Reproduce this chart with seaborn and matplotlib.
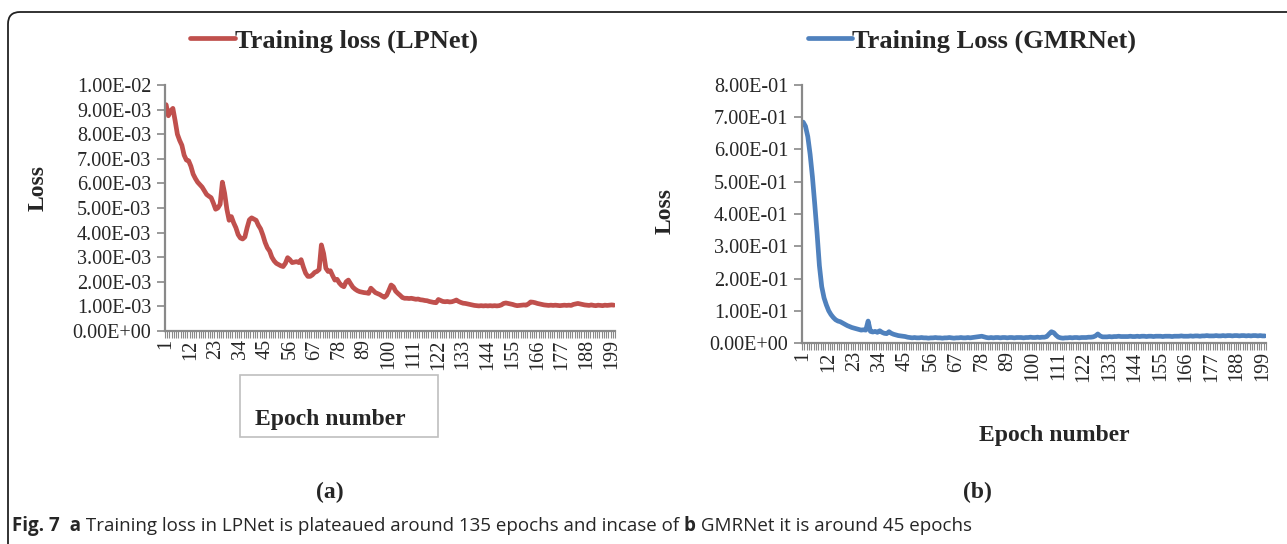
import numpy as np
import pandas as pd
import matplotlib
matplotlib.use("Agg")
import matplotlib.pyplot as plt
from matplotlib.patches import FancyBboxPatch, Rectangle
from matplotlib.ticker import FixedLocator, FuncFormatter
import seaborn as sns

# ---------------- data ----------------
epochs = list(range(1, 201))

# LPNet training loss (units of 1e-3)
lpnet_loss_e3 = [
    9.20, 8.75, 8.95, 9.05, 8.55, 8.00, 7.75, 7.55, 7.15, 6.95,
    6.92, 6.70, 6.38, 6.20, 6.05, 5.95, 5.85, 5.70, 5.55, 5.48,
    5.42, 5.20, 4.95, 5.00, 5.15, 6.05, 5.60, 4.95, 4.50, 4.65,
    4.40, 4.20, 3.92, 3.78, 3.74, 3.82, 4.20, 4.52, 4.60, 4.55,
    4.50, 4.30, 4.15, 3.90, 3.60, 3.38, 3.25, 3.00, 2.85, 2.75,
    2.70, 2.65, 2.62, 2.75, 2.98, 2.90, 2.78, 2.80, 2.82, 2.78,
    2.90, 2.60, 2.35, 2.22, 2.22, 2.28, 2.38, 2.42, 2.50, 3.50,
    3.15, 2.55, 2.42, 2.45, 2.25, 2.07, 2.10, 1.95, 1.85, 1.80,
    2.00, 2.07, 1.92, 1.78, 1.70, 1.64, 1.60, 1.58, 1.56, 1.55,
    1.53, 1.74, 1.65, 1.56, 1.52, 1.48, 1.42, 1.37, 1.45, 1.65,
    1.87, 1.80, 1.62, 1.53, 1.45, 1.36, 1.33, 1.33, 1.32, 1.33,
    1.31, 1.29, 1.30, 1.27, 1.26, 1.24, 1.23, 1.20, 1.18, 1.16,
    1.15, 1.28, 1.24, 1.20, 1.19, 1.20, 1.18, 1.19, 1.22, 1.26,
    1.20, 1.16, 1.13, 1.12, 1.10, 1.08, 1.06, 1.04, 1.03, 1.02,
    1.03, 1.02, 1.03, 1.02, 1.03, 1.02, 1.03, 1.02, 1.03, 1.06,
    1.12, 1.14, 1.12, 1.10, 1.08, 1.05, 1.03, 1.04, 1.05, 1.06,
    1.05, 1.10, 1.18, 1.17, 1.15, 1.12, 1.10, 1.08, 1.06, 1.05,
    1.04, 1.05, 1.04, 1.05, 1.04, 1.03, 1.04, 1.05, 1.04, 1.05,
    1.04, 1.08, 1.10, 1.12, 1.10, 1.08, 1.06, 1.05, 1.04, 1.06,
    1.04, 1.03, 1.05, 1.04, 1.03, 1.05, 1.04, 1.05, 1.06, 1.05,
]

# GMRNet training loss
gmrnet_loss = [
    0.685, 0.672, 0.640, 0.585, 0.515, 0.430, 0.340, 0.240, 0.175, 0.140,
    0.118, 0.100, 0.088, 0.079, 0.072, 0.068, 0.066, 0.062, 0.058, 0.054,
    0.051, 0.048, 0.046, 0.044, 0.042, 0.040, 0.041, 0.040, 0.068, 0.036,
    0.034, 0.036, 0.033, 0.038, 0.033, 0.030, 0.029, 0.035, 0.030, 0.027,
    0.025, 0.023, 0.022, 0.021, 0.020, 0.018, 0.017, 0.016, 0.017, 0.016,
    0.016, 0.017, 0.016, 0.016, 0.015, 0.016, 0.016, 0.017, 0.016, 0.016,
    0.015, 0.016, 0.016, 0.017, 0.016, 0.015, 0.016, 0.016, 0.017, 0.016,
    0.016, 0.017, 0.016, 0.017, 0.018, 0.019, 0.020, 0.021, 0.019, 0.017,
    0.016, 0.017, 0.016, 0.017, 0.017, 0.016, 0.017, 0.017, 0.016, 0.017,
    0.017, 0.016, 0.017, 0.017, 0.017, 0.016, 0.017, 0.017, 0.018, 0.017,
    0.017, 0.018, 0.017, 0.018, 0.018, 0.020, 0.028, 0.035, 0.032, 0.024,
    0.018, 0.016, 0.015, 0.016, 0.016, 0.017, 0.016, 0.017, 0.017, 0.016,
    0.017, 0.017, 0.017, 0.018, 0.018, 0.019, 0.022, 0.028, 0.022, 0.019,
    0.019, 0.019, 0.020, 0.019, 0.020, 0.020, 0.021, 0.020, 0.020, 0.020,
    0.020, 0.021, 0.020, 0.020, 0.021, 0.020, 0.021, 0.021, 0.020, 0.021,
    0.021, 0.020, 0.021, 0.021, 0.021, 0.020, 0.021, 0.021, 0.021, 0.020,
    0.021, 0.021, 0.021, 0.022, 0.021, 0.021, 0.021, 0.022, 0.021, 0.022,
    0.022, 0.021, 0.022, 0.022, 0.023, 0.022, 0.022, 0.022, 0.023, 0.022,
    0.022, 0.023, 0.022, 0.023, 0.023, 0.022, 0.023, 0.023, 0.022, 0.023,
    0.023, 0.022, 0.023, 0.022, 0.023, 0.023, 0.022, 0.023, 0.022, 0.022,
]

xtick_labels = [str(v) for v in range(1, 200, 11)]
lp_yticks = [i * 1e-3 for i in range(11)]
gmr_yticks = [i * 0.1 for i in range(9)]

legend_a = "Training loss (LPNet)"
legend_b = "Training Loss (GMRNet)"
xlabel = "Epoch number"
ylabel = "Loss"
caption_parts = [("Fig. 7", "bold"), ("  a", "bold"),
                 (" Training loss in LPNet is plateaued around 135 epochs and incase of ", "normal"),
                 ("b", "bold"), (" GMRNet it is around 45 epochs", "normal")]

RED = "#C0504D"
BLUE = "#4F81BD"
AXIS_GRAY = "#898989"

df_a = pd.DataFrame({"epoch": epochs, "loss": [v * 1e-3 for v in lpnet_loss_e3]})
df_b = pd.DataFrame({"epoch": epochs, "loss": gmrnet_loss})

# ---------------- figure ----------------
sns.set_style("white")
plt.rcParams["font.family"] = ["Liberation Serif", "DejaVu Serif"]

W, H = 1287, 544
fig = plt.figure(figsize=(W / 100, H / 100), dpi=100)


def frac(x0, y0, x1, y1):
    return [x0 / W, 1 - y1 / H, (x1 - x0) / W, (y1 - y0) / H]


ax_a = fig.add_axes(frac(165, 85, 615, 331))
ax_b = fig.add_axes(frac(802, 85, 1266, 343))

fmt = FuncFormatter(lambda v, p: "{:.2E}".format(v))

for ax, df, color, yt, lbl in [
    (ax_a, df_a, RED, lp_yticks, legend_a),
    (ax_b, df_b, BLUE, gmr_yticks, legend_b),
]:
    sns.lineplot(data=df, x="epoch", y="loss", ax=ax, color=color,
                 linewidth=3.4, label=lbl, solid_capstyle="round")
    ax.set_xlim(0.5, 200.5)
    ax.set_ylim(yt[0], yt[-1])
    ax.set_yticks(yt)
    ax.yaxis.set_major_formatter(fmt)
    ax.set_xticks(list(range(1, 200, 11)))
    ax.set_xticklabels(xtick_labels, rotation=90)
    ax.xaxis.set_minor_locator(FixedLocator([k + 0.5 for k in range(0, 201)]))
    ax.tick_params(axis="x", which="major", length=0, pad=6, labelsize=14.5)
    ax.tick_params(axis="x", which="minor", length=5, width=0.8, color=AXIS_GRAY,
                   direction="out", bottom=True)
    ax.tick_params(axis="y", which="major", length=6, width=1.2, color=AXIS_GRAY,
                   direction="out", left=True, labelsize=14.5, pad=4)
    for s in ["top", "right"]:
        ax.spines[s].set_visible(False)
    for s in ["left", "bottom"]:
        ax.spines[s].set_color(AXIS_GRAY)
        ax.spines[s].set_linewidth(1.6)
    ax.set_xlabel("")
    ax.set_ylabel("")
    ax.grid(False)
    ax.get_legend().remove()

# legends on top
for ax, cx in [(ax_a, 334), (ax_b, 972)]:
    h, l = ax.get_legend_handles_labels()
    fig.legend(h, l, loc="center", bbox_to_anchor=(cx / W, 1 - 41 / H),
               frameon=False, handlelength=1.7, handletextpad=0.0,
               borderpad=0, prop={"weight": "bold", "size": 19})

# axis titles
fig.text(38.5 / W, 1 - 188 / H, ylabel, rotation=90, ha="center", va="center",
         fontsize=17, fontweight="bold")
fig.text(665 / W, 1 - 211 / H, ylabel, rotation=90, ha="center", va="center",
         fontsize=17, fontweight="bold")

# boxed x label (a)
fig.patches.append(Rectangle((240 / W, 1 - 437 / H), 198 / W, 62 / H,
                             transform=fig.transFigure, fill=False,
                             edgecolor="#BFBFBF", linewidth=1.2))
fig.text(330 / W, 1 - 420 / H, xlabel, ha="center", va="center",
         fontsize=17, fontweight="bold")
fig.text(1054 / W, 1 - 435 / H, xlabel, ha="center", va="center",
         fontsize=17, fontweight="bold")

fig.text(330 / W, 1 - 492 / H, "(a)", ha="center", va="center",
         fontsize=17, fontweight="bold")
fig.text(977 / W, 1 - 492 / H, "(b)", ha="center", va="center",
         fontsize=17, fontweight="bold")

# caption
cap_x = 12
renderer = fig.canvas.get_renderer()
for txt, wt in caption_parts:
    t = fig.text(cap_x / W, 1 - 526 / H, txt, ha="left", va="center",
                 fontsize=13.5, fontweight=wt, family=["Open Sans", "DejaVu Sans"])
    bb = t.get_window_extent(renderer=renderer)
    cap_x += bb.width

# rounded frame
frame = FancyBboxPatch((8, -80), 1400, 532 + 80, boxstyle="round,pad=0,rounding_size=12",
                       transform=None, fill=False, edgecolor="#222222", linewidth=1.3)
fig.patches.append(frame)

fig.savefig("out.png", dpi=100)
